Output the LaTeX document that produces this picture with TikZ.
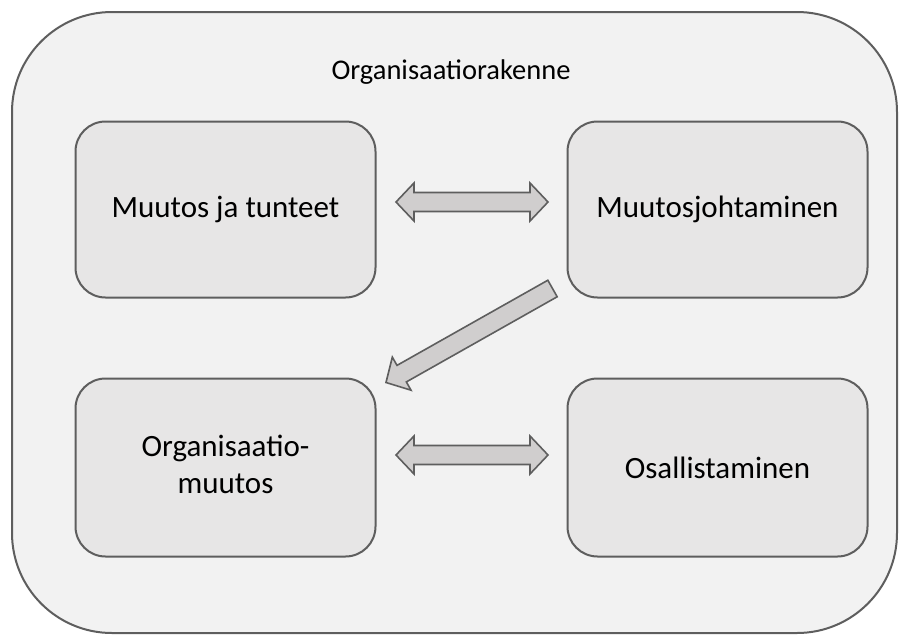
\documentclass[tikz,border=0pt]{standalone}
\usepackage{fontspec}
\setmainfont{Carlito}
\usetikzlibrary{calc}
\definecolor{outerfill}{HTML}{F2F2F2}
\definecolor{boxfill}{HTML}{E7E6E6}
\definecolor{arrowfill}{HTML}{D0CECE}
\definecolor{edge}{HTML}{5E5E5E}
\tikzset{
  outerbox/.style={draw=edge, line width=2pt, fill=outerfill, rounded corners=100pt},
  topicbox/.style={draw=edge, line width=2pt, fill=boxfill, rounded corners=30pt,
    minimum width=300pt, minimum height=176pt, inner sep=0pt, align=center,
    font=\fontsize{31}{37.5}\selectfont},
  blockarrow/.style={draw=edge, line width=1.6pt, fill=arrowfill, line join=miter},
  titletext/.style={font=\fontsize{28.5}{34}\selectfont, inner sep=0pt}
}
\newcommand\dblblock[2]{%
  \path ($(#1)!18pt!(#2)$) coordinate (qa) ($(#2)!18pt!(#1)$) coordinate (qb);
  \draw[blockarrow] (#1) -- ($(qa)!19pt!90:(#2)$) -- ($(qa)!9.5pt!90:(#2)$)
    -- ($(qb)!9.5pt!-90:(#1)$) -- ($(qb)!19pt!-90:(#1)$) -- (#2)
    -- ($(qb)!19pt!90:(#1)$) -- ($(qb)!9.5pt!90:(#1)$)
    -- ($(qa)!9.5pt!-90:(#2)$) -- ($(qa)!19pt!-90:(#2)$) -- cycle;}
\newcommand\sglblock[2]{%
  \path ($(#2)!18pt!(#1)$) coordinate (qh);
  \draw[blockarrow] ($(#1)!9.5pt!90:(#2)$) -- ($(qh)!9.5pt!-90:(#1)$)
    -- ($(qh)!19pt!-90:(#1)$) -- (#2) -- ($(qh)!19pt!90:(#1)$)
    -- ($(qh)!9.5pt!90:(#1)$) -- ($(#1)!9.5pt!-90:(#2)$) -- cycle;}
\begin{document}
\begin{tikzpicture}[x=1pt,y=-1pt]
\useasboundingbox (0,0) rectangle (902,635);
\draw[outerbox] (12,12) rectangle (897,633);
\node[titletext] (title) at (451,72) {Organisaatiorakenne};
\node[topicbox] (tl) at (225.5,209.5) {Muutos ja tunteet};
\node[topicbox] (tr) at (717.5,209.5) {Muutosjohtaminen};
\node[topicbox, minimum height=178pt] (bl) at (225.5,467.5) {\raisebox{-5pt}{\begin{tabular}{@{}c@{}}Organisaatio-\\muutos\end{tabular}}};
\node[topicbox, minimum height=178pt] (br) at (717.5,467.5) {Osallistaminen};
\coordinate (a1) at ($(tl.east)+(19.5,-7.5)$);
\coordinate (a2) at ($(tr.west)+(-18.5,-7.5)$);
\coordinate (b1) at ($(bl.east)+(19.5,-12.5)$);
\coordinate (b2) at ($(br.west)+(-18.5,-12.5)$);
\coordinate (c1) at ($(tr.south west)+(-14,-10)$);
\coordinate (c2) at ($(bl.north east)+(9.5,5)$);
\dblblock{a1}{a2}
\dblblock{b1}{b2}
\sglblock{c1}{c2}
\end{tikzpicture}
\end{document}
